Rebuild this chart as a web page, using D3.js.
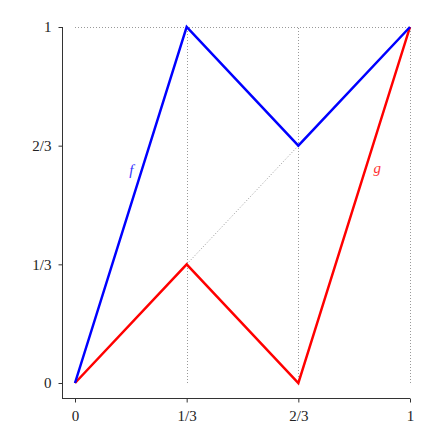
<!doctype html>
<html>
<head>
<script src="https://d3js.org/d3.v7.min.js"></script>
<style>
  body { margin: 0; background: #fff; }
  svg { display: block; }
</style>
</head>
<body>
<script>
  // tick positions and labels
  var ticks = [0, 1/3, 2/3, 1];
  var tickLabels = ["0", "1/3", "2/3", "1"];

  // f (blue) and g (red) breakpoints
  var xs = [0, 1/3, 2/3, 1];
  var fValues = [0, 1, 2/3, 1];
  var gValues = [0, 1/3, 0, 1];

  // dotted guide: from g(1/3) up to f(2/3)
  var guideX = [1/3, 2/3];
  var guideY = [1/3, 2/3];

  var labels = [
    {name: "f", x: 0.168, y: 0.6, color: "#3333ff"},
    {name: "g", x: 0.902, y: 0.605, color: "#ff3333"}
  ];

  var serif = "'Liberation Serif', 'Times New Roman', 'DejaVu Serif', serif";
  var W = 436, H = 436;
  var x = d3.scaleLinear().domain([0, 1]).range([75, 410]);
  var y = d3.scaleLinear().domain([0, 1]).range([383, 27]);

  var svg = d3.select("body").append("svg").attr("width", W).attr("height", H);

  // grid lines
  var grid = svg.append("g").attr("fill", "none").attr("stroke", "#999")
    .attr("stroke-width", 1).attr("stroke-dasharray", "1,2");
  grid.append("line")
    .attr("x1", x(0)).attr("x2", x(1)).attr("y1", y(1) + 0.5).attr("y2", y(1) + 0.5);
  ticks.slice(1).forEach(function (t) {
    grid.append("line")
      .attr("x1", Math.round(x(t)) + 0.5).attr("x2", Math.round(x(t)) + 0.5)
      .attr("y1", y(0)).attr("y2", y(1));
  });
  grid.append("line")
    .attr("x1", x(guideX[0])).attr("y1", y(guideY[0]))
    .attr("x2", x(guideX[1])).attr("y2", y(guideY[1]));

  // axes (L-shaped frame)
  var xAxis = d3.axisBottom(x).tickValues(ticks)
    .tickFormat(function (d, i) { return tickLabels[i]; }).tickSize(4).tickSizeOuter(0).tickPadding(8);
  var yAxis = d3.axisLeft(y).tickValues(ticks)
    .tickFormat(function (d, i) { return tickLabels[i]; }).tickSize(4).tickSizeOuter(0).tickPadding(7);

  var gx = svg.append("g").attr("transform", "translate(0,398.5)").call(xAxis);
  gx.select(".domain").attr("d", "M62," + 0 + "H" + x(1));
  var gy = svg.append("g").attr("transform", "translate(62.5,0)").call(yAxis);
  gy.select(".domain").attr("d", "M0," + y(1) + "V" + 398.5);
  svg.selectAll(".domain, .tick line").attr("stroke", "#333");
  svg.selectAll(".tick text")
    .style("font-family", serif)
    .style("font-size", "15px")
    .attr("fill", "#222");

  var line = d3.line().x(function (d) { return x(d[0]); }).y(function (d) { return y(d[1]); });

  svg.append("path").datum(d3.zip(xs, gValues)).attr("d", line)
    .attr("fill", "none").attr("stroke", "#ff0000").attr("stroke-width", 2.5).attr("stroke-linejoin", "miter");
  svg.append("path").datum(d3.zip(xs, fValues)).attr("d", line)
    .attr("fill", "none").attr("stroke", "#0000ff").attr("stroke-width", 2.5).attr("stroke-linejoin", "miter");

  svg.selectAll(".lbl").data(labels).enter().append("text")
    .attr("x", function (d) { return x(d.x); })
    .attr("y", function (d) { return y(d.y); })
    .attr("dy", "0.35em")
    .attr("text-anchor", "middle")
    .style("font-family", serif)
    .style("font-style", "italic")
    .style("font-size", "15px")
    .attr("fill", function (d) { return d.color; })
    .text(function (d) { return d.name; });
</script>
</body>
</html>
